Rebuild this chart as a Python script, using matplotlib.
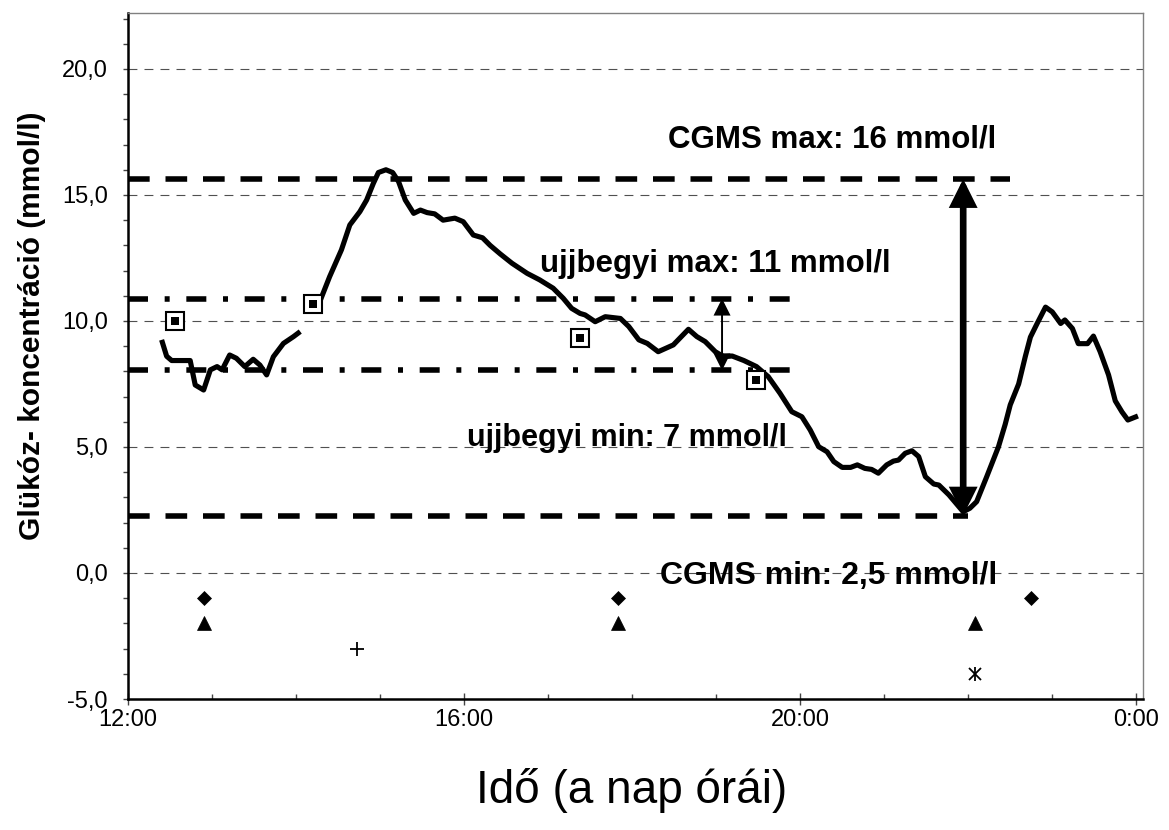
import numpy as np
import matplotlib
matplotlib.use("Agg")
import matplotlib.pyplot as plt
from matplotlib.ticker import FixedLocator, MultipleLocator, FuncFormatter

plt.rcParams['font.family'] = ['Liberation Sans', 'DejaVu Sans']

# ---------------- data (time in hours of the day, glucose in mmol/l) -------------
cgms_time_1 = [12.40, 12.46, 12.52, 12.74, 12.80, 12.90, 12.98, 13.06, 13.12, 13.21,
               13.29, 13.39, 13.49, 13.57, 13.65, 13.73, 13.85, 13.97, 14.05]
cgms_value_1 = [9.25, 8.60, 8.43, 8.43, 7.46, 7.26, 8.06, 8.19, 8.06, 8.65,
                8.52, 8.19, 8.48, 8.25, 7.86, 8.58, 9.11, 9.38, 9.58]

cgms_time_2 = [14.21, 14.29, 14.40, 14.54, 14.64, 14.76, 14.84, 14.92, 14.98, 15.07,
               15.15, 15.22, 15.30, 15.40, 15.48, 15.56, 15.65, 15.75, 15.89, 15.99,
               16.11, 16.22, 16.31, 16.43, 16.57, 16.75, 16.90, 17.06, 17.18, 17.28,
               17.38, 17.44, 17.56, 17.68, 17.86, 17.96, 18.08, 18.18, 18.31, 18.49,
               18.67, 18.77, 18.87, 18.99, 19.09, 19.19, 19.33, 19.48, 19.62, 19.76,
               19.90, 20.02, 20.12, 20.22, 20.32, 20.40, 20.50, 20.60, 20.68, 20.77,
               20.85, 20.93, 21.03, 21.11, 21.17, 21.25, 21.33, 21.41, 21.49, 21.59,
               21.65, 21.77, 21.94, 22.02, 22.10, 22.22, 22.36, 22.44, 22.50, 22.60,
               22.68, 22.74, 22.82, 22.92, 23.00, 23.10, 23.15, 23.24, 23.31, 23.42,
               23.49, 23.57, 23.67, 23.75, 23.83, 23.90, 24.02]
cgms_value_2 = [10.67, 10.83, 11.76, 12.82, 13.81, 14.34, 14.80, 15.46, 15.89, 16.00,
                15.89, 15.53, 14.80, 14.27, 14.40, 14.30, 14.25, 14.00, 14.08, 13.94,
                13.41, 13.30, 13.00, 12.66, 12.29, 11.89, 11.63, 11.30, 10.90, 10.50,
                10.30, 10.24, 9.97, 10.17, 10.10, 9.78, 9.25, 9.11, 8.78, 9.05,
                9.67, 9.38, 9.18, 8.78, 8.58, 8.61, 8.43, 8.19, 7.79, 7.13,
                6.40, 6.20, 5.67, 5.01, 4.81, 4.42, 4.19, 4.19, 4.29, 4.15,
                4.11, 3.96, 4.29, 4.44, 4.48, 4.75, 4.85, 4.62, 3.82, 3.53,
                3.49, 3.10, 2.43, 2.57, 2.83, 3.82, 5.01, 5.90, 6.67, 7.50,
                8.60, 9.36, 9.90, 10.55, 10.36, 9.90, 10.04, 9.70, 9.10, 9.10,
                9.40, 8.78, 7.86, 6.83, 6.39, 6.07, 6.23]

finger_time = [12.56, 14.20, 17.38, 19.48]
finger_value = [10.0, 10.67, 9.31, 7.66]

diamond_time = [12.90, 17.83, 22.75]
diamond_level = [-1, -1, -1]
triangle_time = [12.90, 17.83, 22.08]
triangle_level = [-2, -2, -2]
plus_time = [14.73]
plus_level = [-3]
star_time = [22.08]
star_level = [-4]

cgms_max_level = 15.63
cgms_min_level = 2.28
finger_max_level = 10.89
finger_min_level = 8.04

x_ticks = [12, 16, 20, 24]
x_tick_labels = ['12:00', '16:00', '20:00', '0:00']
y_ticks = [-5, 0, 5, 10, 15, 20]

# ---------------- figure ------------------------------------------------------------
W, H = 1169, 830
fig = plt.figure(figsize=(W / 100, H / 100), dpi=100)
ax = fig.add_axes([128 / W, 1 - 699 / H, (1143 - 128) / W, (699 - 13) / H])
ax.set_xlim(12, 24.08)
ax.set_ylim(-5, 22.22)

# grid
ax.set_axisbelow(True)
ax.yaxis.grid(True, which='major', linestyle=(0, (8, 6.4)), linewidth=0.8, color='#505050')

# reference lines
ax.plot([12, 22.5], [cgms_max_level] * 2, color='black', lw=4,
        linestyle=(0, (3.9, 2.85)), dash_capstyle='butt', zorder=2)
ax.plot([12, 22.0], [cgms_min_level] * 2, color='black', lw=4,
        linestyle=(0, (3.9, 2.85)), dash_capstyle='butt', zorder=2)
ax.plot([12, 20.05], [finger_max_level] * 2, color='black', lw=4,
        linestyle=(0, (3.6, 3.0, 0.9, 3.0)), dash_capstyle='butt', zorder=2)
ax.plot([12, 20.05], [finger_min_level] * 2, color='black', lw=4,
        linestyle=(0, (3.6, 3.0, 0.9, 3.0)), dash_capstyle='butt', zorder=2)

# CGMS curve
ax.plot(cgms_time_1, cgms_value_1, color='black', lw=3.7, solid_joinstyle='round',
        solid_capstyle='butt', zorder=3)
ax.plot(cgms_time_2, cgms_value_2, color='black', lw=3.7, solid_joinstyle='round',
        solid_capstyle='butt', zorder=3)

# arrows
ax.annotate('', xy=(21.94, cgms_max_level), xytext=(21.94, cgms_min_level),
            arrowprops=dict(arrowstyle='<|-|>,head_length=1.3,head_width=0.65',
                            lw=4.8, color='black', shrinkA=0, shrinkB=0,
                            mutation_scale=10, joinstyle='miter'), zorder=4)
ax.annotate('', xy=(19.07, finger_max_level), xytext=(19.07, finger_min_level),
            arrowprops=dict(arrowstyle='<|-|>,head_length=1.0,head_width=0.5',
                            lw=1.4, color='black', shrinkA=0, shrinkB=0,
                            mutation_scale=10, joinstyle='miter'), zorder=4)

# fingerstick squares
ax.plot(finger_time, finger_value, linestyle='none', marker='s', ms=12.8, mew=1.5,
        mfc='white', mec='black', zorder=5)
ax.plot(finger_time, finger_value, linestyle='none', marker='s', ms=5.4, mew=0,
        mfc='black', zorder=6)

# event markers
ax.plot(diamond_time, diamond_level, linestyle='none', marker='D', ms=7,
        color='black', mew=0.5, zorder=5)
ax.plot(triangle_time, triangle_level, linestyle='none', marker='^', ms=9.5,
        color='black', mew=0.5, zorder=5)
ax.plot(plus_time, plus_level, linestyle='none', marker='+', ms=9.5,
        color='black', mew=1.3, zorder=5)
ax.plot(star_time, star_level, linestyle='none', marker='x', ms=8.5,
        color='black', mew=1.3, zorder=5)
ax.plot(star_time, star_level, linestyle='none', marker='|', ms=9.5,
        color='black', mew=1.3, zorder=5)

# annotations
tkw = dict(fontweight='bold', color='black', zorder=7, va='baseline', ha='left')
ax.text(18.43, 16.9, 'CGMS max: 16 mmol/l', fontsize=22.5, **tkw)
ax.text(16.90, 11.96, 'ujjbegyi max: 11 mmol/l', fontsize=22.5, **tkw)
ax.text(16.04, 5.05, 'ujjbegyi min: 7 mmol/l', fontsize=22, **tkw)
ax.text(18.33, -0.42, 'CGMS min: 2,5 mmol/l', fontsize=23, **tkw)

# spines
for s in ['left', 'bottom']:
    ax.spines[s].set_linewidth(1.8)
    ax.spines[s].set_color('black')
for s in ['top', 'right']:
    ax.spines[s].set_linewidth(1.0)
    ax.spines[s].set_color('#808080')

# ticks
ax.xaxis.set_major_locator(FixedLocator(x_ticks))
ax.xaxis.set_ticklabels(x_tick_labels)
ax.xaxis.set_minor_locator(MultipleLocator(1))
ax.tick_params(axis='x', which='major', direction='inout', length=9, width=1,
               color='#444444', labelsize=17, pad=2.5)
ax.tick_params(axis='x', which='minor', direction='in', length=3.6, width=1, color='#444444')

ax.yaxis.set_major_locator(FixedLocator(y_ticks))
ax.yaxis.set_major_formatter(FuncFormatter(lambda v, p: f'{v:.1f}'.replace('.', ',')))
ax.yaxis.set_minor_locator(MultipleLocator(1))
ax.tick_params(axis='y', which='both', direction='out', length=3.6, width=1,
               color='#444444', labelsize=17, pad=10.8)

# axis labels
ax.set_ylabel('Glükóz- koncentráció (mmol/l)', fontsize=21.5, fontweight='bold')
ax.yaxis.set_label_coords(-0.0946, 0.544)
ax.yaxis.label.set_va('center')
ax.set_xlabel('Idő (a nap órái)', fontsize=33)
ax.xaxis.set_label_coords(0.4966, -0.1327)
ax.xaxis.label.set_va('center')

fig.savefig('out.png', dpi=100)
